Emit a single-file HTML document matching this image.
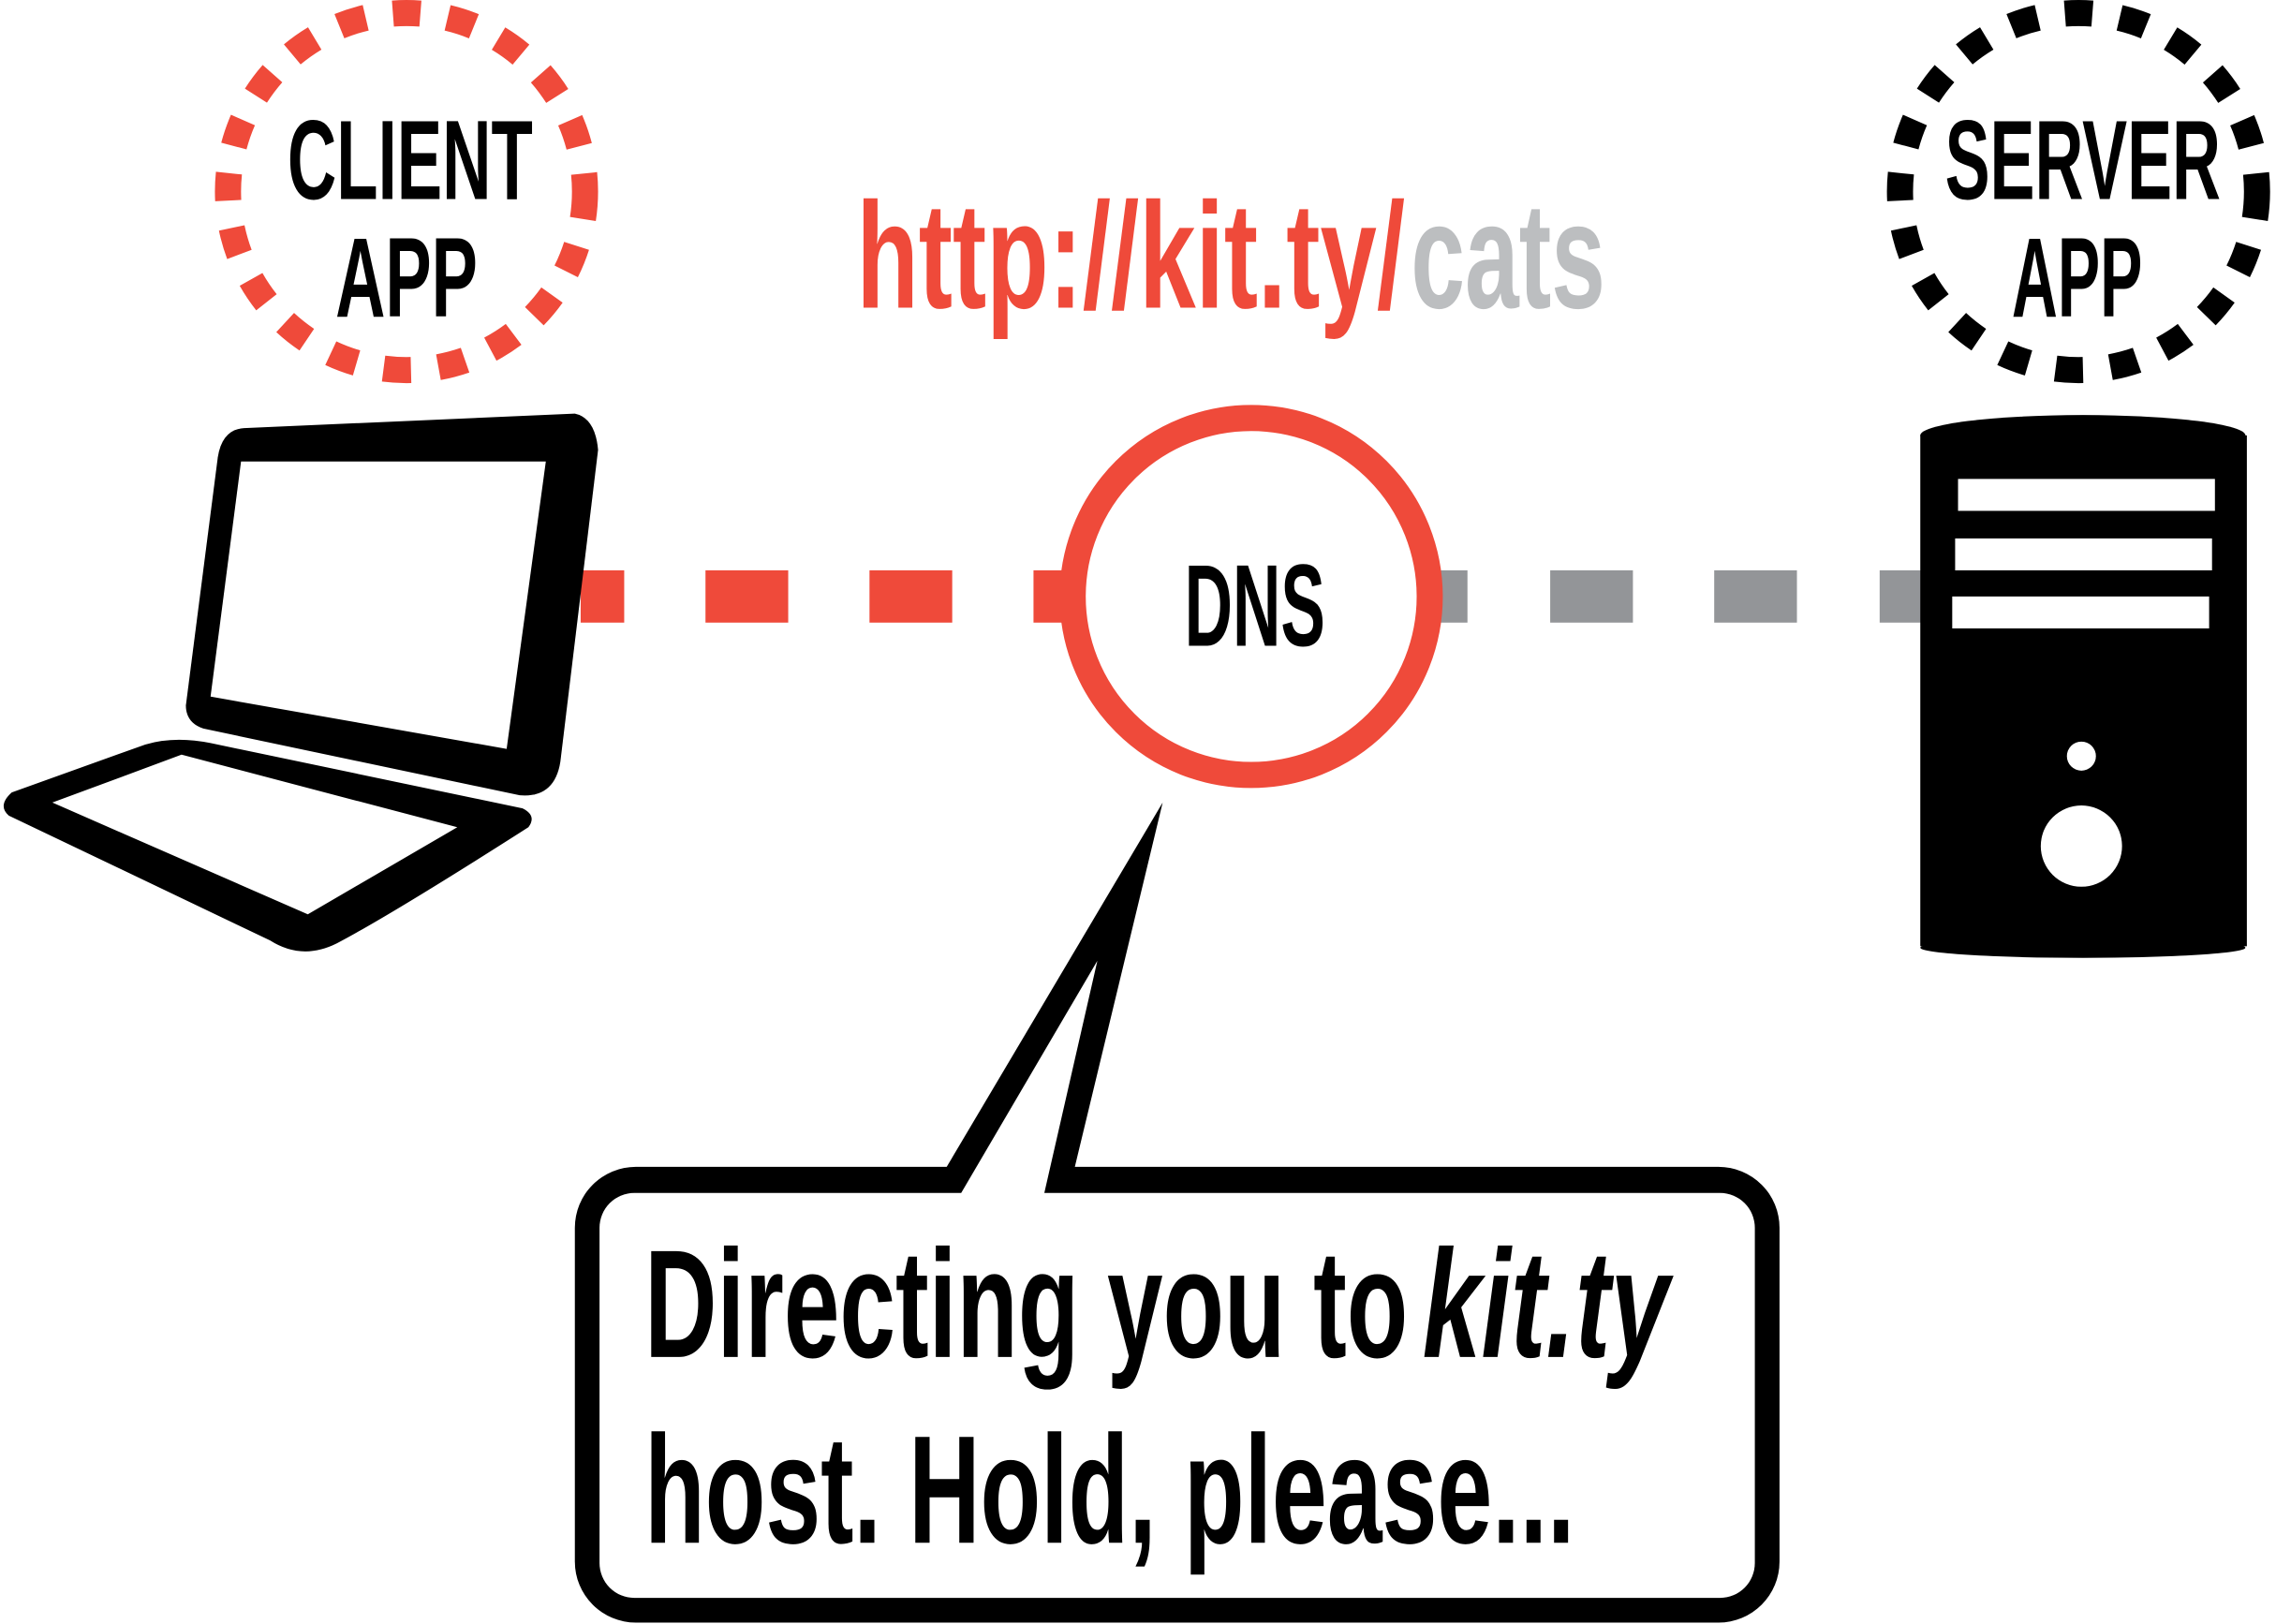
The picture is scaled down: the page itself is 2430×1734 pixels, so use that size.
<!DOCTYPE html>
<html><head><meta charset="utf-8"><style>
html,body{margin:0;padding:0;background:#fff;width:2430px;height:1734px;overflow:hidden}
svg{display:block}
text{font-family:"Liberation Sans",sans-serif;font-weight:bold}
</style></head><body>
<svg width="2430" height="1734" viewBox="0 0 1568 1119" xmlns="http://www.w3.org/2000/svg">
<rect width="1568" height="1119" fill="#fff"/>
<!-- dashed connector -->
<g fill="#ef4a3a">
<rect x="400" y="393" width="30" height="36"/>
<rect x="486" y="393" width="57" height="36"/>
<rect x="599" y="393" width="57" height="36"/>
<rect x="712" y="393" width="40" height="36"/>
</g>
<g fill="#939598">
<rect x="985" y="393" width="26" height="36"/>
<rect x="1068" y="393" width="57" height="36"/>
<rect x="1181" y="393" width="57" height="36"/>
<rect x="1295" y="393" width="35" height="36"/>
</g>
<!-- client circle -->
<circle cx="280" cy="132" r="123" fill="none" stroke="#ef4a3a" stroke-width="18" stroke-dasharray="19 19"/>
<text x="198" y="137" font-size="78" textLength="169" lengthAdjust="spacingAndGlyphs">CLIENT</text>
<text x="231" y="218" font-size="78" textLength="98" lengthAdjust="spacingAndGlyphs">APP</text>
<!-- server circle -->
<circle cx="1432" cy="132" r="123" fill="none" stroke="#000" stroke-width="18" stroke-dasharray="19 19"/>
<text x="1340" y="137" font-size="78" textLength="190" lengthAdjust="spacingAndGlyphs">SERVER</text>
<text x="1386" y="218" font-size="78" textLength="90" lengthAdjust="spacingAndGlyphs">APP</text>
<!-- URL -->
<text x="590" y="212" font-size="104" fill="#ef4a3a" textLength="378" lengthAdjust="spacingAndGlyphs">http://kit.ty/</text>
<text x="972" y="212" font-size="104" fill="#bcbec0" textLength="134" lengthAdjust="spacingAndGlyphs">cats</text>
<!-- DNS -->
<circle cx="862" cy="411" r="123" fill="#fff" stroke="#ef4a3a" stroke-width="18"/>
<text x="816" y="445" font-size="80" textLength="97" lengthAdjust="spacingAndGlyphs">DNS</text>
<!-- laptop -->
<path d="M168,295 L396,285 Q410,288 412,310 L386,525 Q382,550 358,548 L140,502 Q128,498 128,486 L150,315 Q153,296 168,295 Z" fill="#000"/>
<polygon points="166,318 376,318 349,516 145,480" fill="#fff"/>
<path d="M8,546 L100,513 Q120,507 145,512 L360,557 Q370,562 364,570 Q270,630 232,650 Q208,662 186,648 L6,562 Q-2,555 8,546 Z" fill="#000"/>
<polygon points="36,553 125,520 315,570 212,630" fill="#fff"/>
<!-- server -->
<ellipse cx="1435" cy="300" rx="112" ry="14" fill="#000"/>
<rect x="1323" y="300" width="225" height="352" fill="#000"/>
<ellipse cx="1435" cy="653" rx="112" ry="7" fill="#000"/>
<rect x="1349" y="330" width="177" height="22" fill="#fff"/>
<rect x="1347" y="371" width="177" height="22" fill="#fff"/>
<rect x="1345" y="411" width="177" height="22" fill="#fff"/>
<circle cx="1434" cy="521" r="10" fill="#fff"/>
<circle cx="1434" cy="583" r="28" fill="#fff"/>
<!-- speech bubble -->
<rect x="396" y="804" width="830" height="314" rx="42" fill="#000"/>
<polygon points="651,806 801,553 740,806" fill="#000"/>
<rect x="413" y="822" width="796" height="279" rx="24" fill="#fff"/>
<polygon points="661,824 756,662 719,824" fill="#fff"/>
<text x="444" y="935" font-size="106" textLength="526" lengthAdjust="spacingAndGlyphs">Directing you to</text>
<text x="980" y="935" font-size="106" font-style="italic" textLength="170" lengthAdjust="spacingAndGlyphs">kit.ty</text>
<text x="444" y="1063" font-size="106" textLength="641" lengthAdjust="spacingAndGlyphs">host. Hold, please...</text>
</svg>
</body></html>
